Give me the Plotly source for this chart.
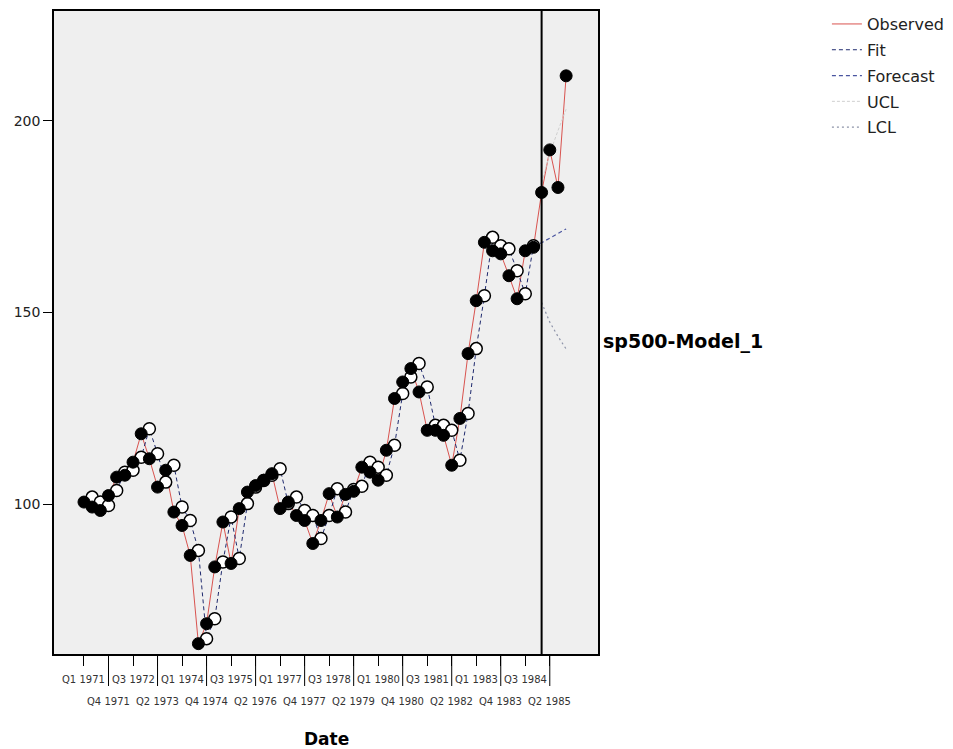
import plotly.graph_objects as go

# ---------------- data ----------------
dates = [f"Q{q} {y}" for y in range(1971, 1986) for q in (1, 2, 3, 4)]  # Q1 1971 .. Q4 1985

observed = [100.6, 99.3, 98.4, 102.3, 107.1, 107.6, 111.0, 118.4, 111.9, 104.5,
            108.9, 98.0, 94.5, 86.7, 63.7, 68.9, 83.7, 95.4, 84.6, 98.9,
            103.2, 104.9, 106.3, 108.0, 98.9, 100.6, 97.1, 95.8, 89.8, 95.8,
            102.8, 96.7, 102.6, 103.4, 109.7, 108.4, 106.3, 114.1, 127.6, 131.9,
            135.4, 129.3, 119.3, 119.3, 118.0, 110.2, 122.4, 139.3, 153.1, 168.3,
            166.1, 165.3, 159.6, 153.6, 166.1, 167.0, 181.3, 192.4, 182.6, 211.7]

# fitted values, Q2 1971 .. Q4 1984
fit = [101.9, 100.6, 99.7, 103.6, 108.4, 108.9, 112.3, 119.7, 113.2, 105.8,
       110.2, 99.3, 95.8, 88.0, 65.0, 70.2, 85.0, 96.7, 85.9, 100.2,
       104.5, 106.2, 107.6, 109.3, 100.2, 101.9, 98.4, 97.1, 91.1, 97.1,
       104.1, 98.0, 103.9, 104.7, 111.0, 109.7, 107.6, 115.4, 128.9, 133.2,
       136.7, 130.6, 120.6, 120.6, 119.3, 111.5, 123.7, 140.6, 154.4, 169.6,
       167.4, 166.6, 160.9, 154.9, 167.4]

# forecast period Q4 1984 (anchor) .. Q4 1985
forecast = [167.4, 168.2, 169.4, 170.6, 171.8]
ucl = [183.8, 191.5, 197.4, 203.0]   # Q1 1985 .. Q4 1985
lcl = [152.6, 147.5, 143.8, 140.5]

tick_labels_top = ["Q1 1971", "Q3 1972", "Q1 1974", "Q3 1975", "Q1 1977",
                   "Q3 1978", "Q1 1980", "Q3 1981", "Q1 1983", "Q3 1984"]
tick_labels_bottom = ["Q4 1971", "Q2 1973", "Q4 1974", "Q2 1976", "Q4 1977",
                      "Q2 1979", "Q4 1980", "Q2 1982", "Q4 1983", "Q2 1985"]
y_ticks = [100, 150, 200]
model_label = "sp500-Model_1"
# --------------------------------------

fit_dates = dates[1:1 + len(fit)]
fc_dates = dates[55:55 + len(forecast)]
ci_dates = dates[56:56 + len(ucl)]
forecast_start = dates[56]

fig = go.Figure()

# lines (legend entries)
fig.add_trace(go.Scatter(x=dates, y=observed, mode="lines", name="Observed", legendgroup="a",
                         line=dict(color="#d9534f", width=1)))
fig.add_trace(go.Scatter(x=fit_dates, y=fit, mode="lines", name="Fit", legendgroup="b",
                         line=dict(color="#1f2a6e", width=1, dash="4px,3px")))
fig.add_trace(go.Scatter(x=fc_dates, y=forecast, mode="lines", name="Forecast", legendgroup="c",
                         line=dict(color="#4a55a0", width=1.2, dash="4px,3px")))
fig.add_trace(go.Scatter(x=ci_dates, y=ucl, mode="lines", name="UCL", legendgroup="d",
                         line=dict(color="#cfcfcf", width=1, dash="3px,2px")))
fig.add_trace(go.Scatter(x=ci_dates, y=lcl, mode="lines", name="LCL", legendgroup="e",
                         line=dict(color="#8d93a8", width=1.2, dash="2px,3px")))

# markers
fig.add_trace(go.Scatter(x=fit_dates, y=fit, mode="markers", showlegend=False,
                         marker=dict(symbol="circle", size=12, color="white",
                                     line=dict(color="black", width=1.5))))
fig.add_trace(go.Scatter(x=dates, y=observed, mode="markers", showlegend=False,
                         marker=dict(symbol="circle", size=12, color="black",
                                     line=dict(color="black", width=1))))

top_pos = [dates[dates.index(t)] for t in tick_labels_top]
bot_pos = [dates[dates.index(t)] for t in tick_labels_bottom]

plot_h = 749 - 11 - 95
tick_font = dict(family="DejaVu Sans", size=10, color="#333")
annotations = []
for t in tick_labels_top:
    annotations.append(dict(x=t, y=0, xref="x", yref="paper", text=t, showarrow=False,
                            yanchor="middle", yshift=-25, font=tick_font))
for t in tick_labels_bottom:
    annotations.append(dict(x=t, y=0, xref="x", yref="paper", text=t, showarrow=False,
                            yanchor="middle", yshift=-47, font=tick_font))
annotations.append(dict(x=0.5, y=0, xref="paper", yref="paper", text="<b>Date</b>",
                        showarrow=False, yanchor="middle", yshift=-85,
                        font=dict(family="DejaVu Sans", size=17, color="black")))
annotations.append(dict(x=1.006, y=0.486, xref="paper", yref="paper",
                        text=f"<b>{model_label}</b>", showarrow=False,
                        xanchor="left", yanchor="middle",
                        font=dict(family="DejaVu Sans", size=19, color="black")))

shapes = [dict(type="line", xref="x", yref="paper", x0=forecast_start, x1=forecast_start,
               y0=0, y1=1, line=dict(color="black", width=2))]
for p in bot_pos:
    shapes.append(dict(type="line", xref="x", yref="paper", x0=p, x1=p,
                       y0=0, y1=-32 / plot_h, line=dict(color="black", width=1)))

fig.update_layout(
    width=953, height=749,
    margin=dict(l=54, r=355, t=11, b=95, autoexpand=False),
    paper_bgcolor="white", plot_bgcolor="#efefef",
    showlegend=True,
    legend=dict(xref="container", yref="container", x=0.8677, y=0.9906,
                xanchor="left", yanchor="top",
                font=dict(family="DejaVu Sans", size=16, color="#222"),
                bgcolor="rgba(0,0,0,0)", tracegroupgap=2, itemwidth=30,
                traceorder="grouped"),
    annotations=annotations, shapes=shapes,
    font=dict(family="DejaVu Sans"),
)
fig.update_xaxes(type="category", categoryorder="array", categoryarray=dates,
                 range=[-3.67, 62.9], showgrid=False, zeroline=False,
                 showline=True, linecolor="black", linewidth=1.5, mirror=True,
                 ticks="outside", ticklen=10, tickcolor="black",
                 tickvals=top_pos + bot_pos, showticklabels=False)
fig.update_yaxes(range=[61, 228.6], showgrid=False, zeroline=False,
                 showline=True, linecolor="black", linewidth=1.5, mirror=True,
                 ticks="outside", ticklen=9, tickcolor="black", tickvals=y_ticks,
                 tickfont=dict(family="DejaVu Sans", size=14, color="#222"))

fig.write_html("out.html", config={"displayModeBar": False},
               post_script="document.body.style.margin='0px';")
